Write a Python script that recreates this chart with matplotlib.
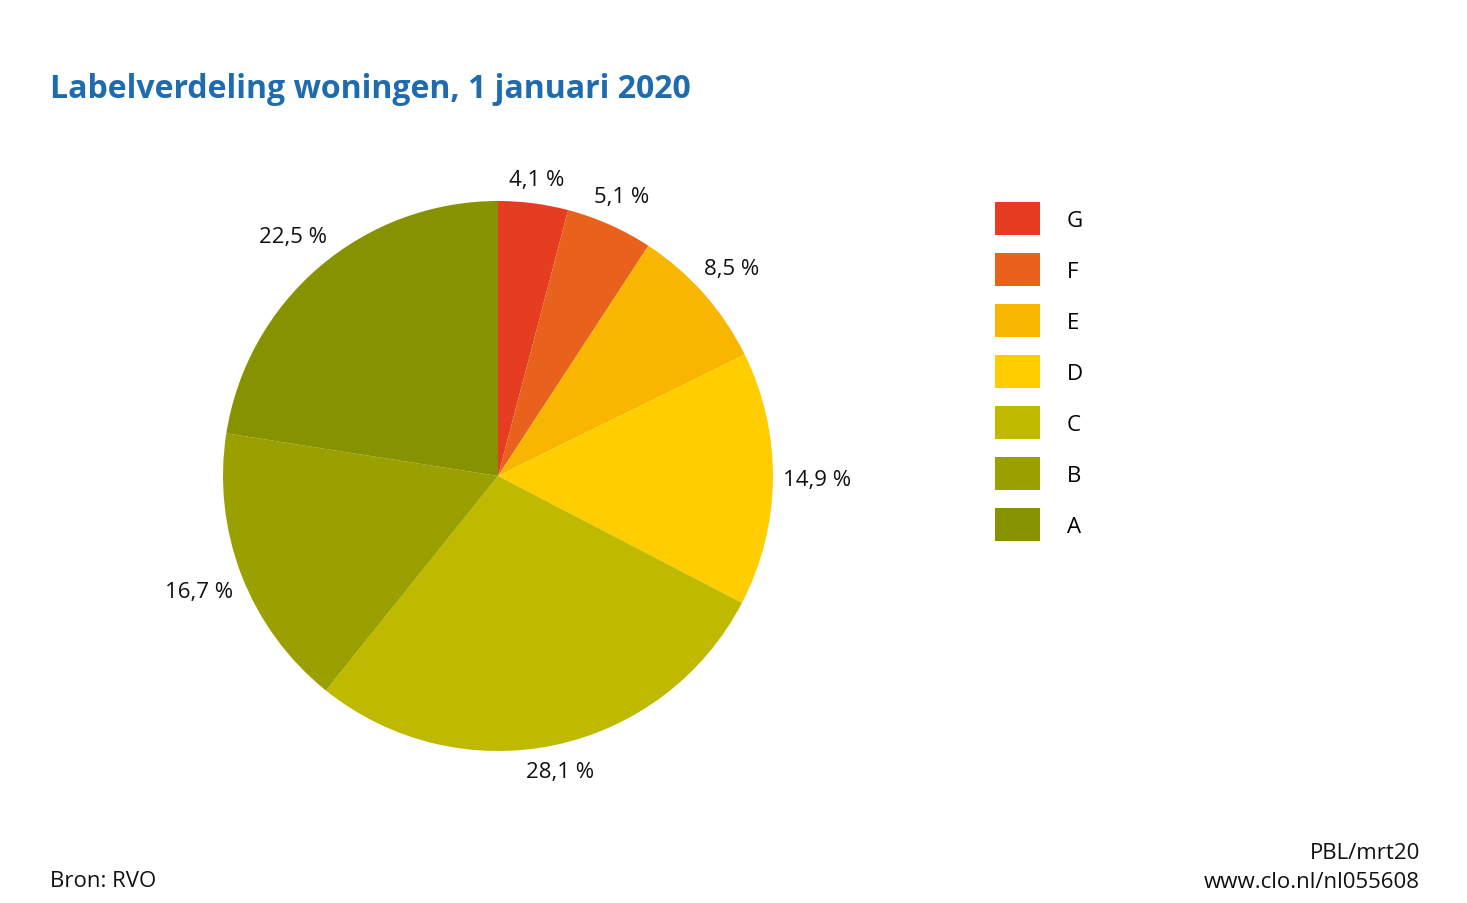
import numpy as np
import matplotlib.pyplot as plt

plt.rcParams['font.family'] = ['Open Sans', 'DejaVu Sans']

# data
labels = ['G', 'F', 'E', 'D', 'C', 'B', 'A']
shares = [4.1, 5.1, 8.5, 14.9, 28.1, 16.7, 22.5]
colors = ['#e53c22', '#e8611d', '#f8b600', '#ffcd00', '#bfba00', '#9aa000', '#869200']

W, H = 1467, 904
fig = plt.figure(figsize=(W / 100, H / 100), dpi=100)

# pie centre (498, 477) px, radius 275 px
cx, cy, r, half = 498, 477, 275, 330
ax = fig.add_axes([(cx - half) / W, (H - cy - half) / H, 2 * half / W, 2 * half / H])

wedges, texts, autotexts = ax.pie(
    shares, colors=colors, startangle=90, counterclock=False,
    autopct=lambda p: f'{p:.1f} %'.replace('.', ','),
    pctdistance=1.125, radius=1.0,
    wedgeprops=dict(linewidth=0),
    textprops=dict(fontsize=16, color='#111111'),
)
lim = half / r
ax.set_xlim(-lim, lim)
ax.set_ylim(-lim, lim)
ax.set_aspect('equal')
ax.axis('off')

# push each percentage label just outside the rim, keeping its box clear of the pie
fig.canvas.draw()
inv = ax.transData.inverted()
for w, t in zip(wedges, autotexts):
    ang = np.deg2rad((w.theta1 + w.theta2) / 2)
    bb = t.get_window_extent().transformed(inv)
    d = 1.035 + abs(np.cos(ang)) * bb.width / 2 + abs(np.sin(ang)) * bb.height / 2
    t.set_position((d * np.cos(ang), d * np.sin(ang)))

fig.text(50 / W, 1 - 89 / H, 'Labelverdeling woningen, 1 januari 2020',
         fontsize=23, fontweight='bold', color='#1f6bb0', va='center', ha='left')

fig.legend(wedges, labels, loc='upper left',
           bbox_to_anchor=(995 / W, 1 - 203 / H), frameon=False,
           fontsize=16, handlelength=2.03, handleheight=1.91,
           labelspacing=0.81, handletextpad=1.2, borderpad=0, borderaxespad=0)

fig.text(50 / W, 1 - 882 / H, 'Bron: RVO', fontsize=16, color='#111111',
         va='center', ha='left')
fig.text(1420 / W, 1 - 854 / H, 'PBL/mrt20', fontsize=16, color='#111111',
         va='center', ha='right')
fig.text(1420 / W, 1 - 883 / H, 'www.clo.nl/nl055608', fontsize=16, color='#111111',
         va='center', ha='right')

fig.savefig('out.png', dpi=100, facecolor='white')
